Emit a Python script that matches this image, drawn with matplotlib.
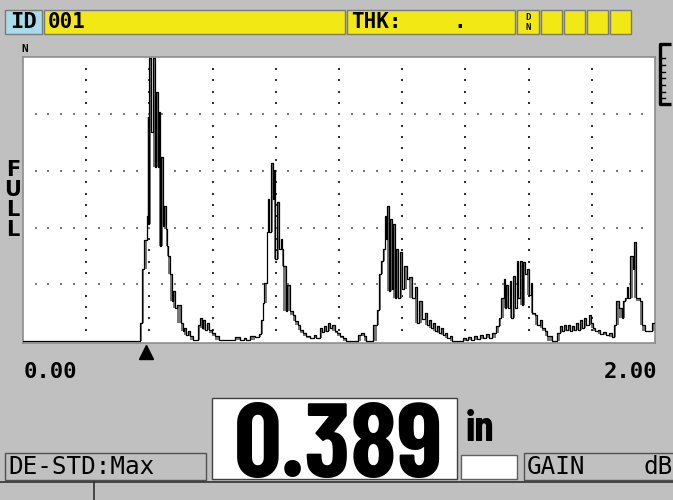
import matplotlib
matplotlib.use("Agg")
import numpy as np
import matplotlib.pyplot as plt
from matplotlib.patches import Rectangle

# A-scan trace: depth (in) and echo amplitude (% of full screen height)
depth_in = [
    0.000, 0.370, 0.378, 0.384, 0.391, 0.394, 0.397, 0.399, 0.405, 0.410,
    0.419, 0.422, 0.426, 0.430, 0.435, 0.438, 0.443, 0.446, 0.451, 0.456,
    0.460, 0.465, 0.472, 0.475, 0.481, 0.487, 0.500, 0.505, 0.509, 0.516,
    0.522, 0.528, 0.538, 0.554, 0.560, 0.565, 0.570, 0.576, 0.582, 0.589,
    0.598, 0.608, 0.620, 0.671, 0.687, 0.699, 0.706, 0.718, 0.734, 0.747,
    0.752, 0.758, 0.764, 0.771, 0.775, 0.780, 0.785, 0.791, 0.794, 0.799,
    0.804, 0.810, 0.815, 0.821, 0.824, 0.831, 0.835, 0.845, 0.853, 0.861,
    0.869, 0.877, 0.886, 0.896, 0.908, 0.921, 0.927, 0.940, 0.946, 0.953,
    0.959, 0.965, 0.972, 0.978, 0.987, 0.994, 1.003, 1.013, 1.022, 1.060,
    1.070, 1.079, 1.085, 1.109, 1.119, 1.125, 1.134, 1.139, 1.144, 1.149,
    1.153, 1.158, 1.161, 1.168, 1.171, 1.176, 1.180, 1.187, 1.193, 1.199,
    1.207, 1.215, 1.223, 1.231, 1.239, 1.247, 1.253, 1.263, 1.271, 1.278,
    1.285, 1.291, 1.297, 1.304, 1.310, 1.316, 1.323, 1.329, 1.335, 1.342,
    1.351, 1.358, 1.392, 1.402, 1.408, 1.418, 1.427, 1.437, 1.446, 1.456,
    1.465, 1.475, 1.483, 1.497, 1.506, 1.514, 1.521, 1.525, 1.530, 1.535,
    1.540, 1.544, 1.551, 1.557, 1.562, 1.568, 1.573, 1.579, 1.582, 1.589,
    1.595, 1.601, 1.608, 1.612, 1.620, 1.627, 1.636, 1.642, 1.652, 1.658,
    1.674, 1.691, 1.699, 1.706, 1.712, 1.718, 1.725, 1.731, 1.737, 1.744,
    1.750, 1.756, 1.763, 1.769, 1.775, 1.782, 1.790, 1.797, 1.804, 1.810,
    1.820, 1.826, 1.835, 1.845, 1.854, 1.864, 1.870, 1.878, 1.886, 1.894,
    1.900, 1.905, 1.911, 1.916, 1.922, 1.929, 1.935, 1.941, 1.951, 1.960,
    1.968, 1.992, 2.000,
]
amp_pct = [
    0.0, 6.3, 25.5, 35.7, 44.1, 79.0, 41.3, 100.0, 73.8, 100.0,
    61.5, 87.8, 61.5, 80.8, 33.6, 65.0, 40.6, 47.6, 39.5, 33.6,
    30.1, 23.8, 14.0, 17.5, 11.5, 12.6, 6.3, 3.5, 4.5, 2.1,
    3.5, 1.7, 0.3, 5.6, 8.0, 4.5, 7.3, 3.8, 6.3, 3.8,
    2.8, 1.7, 0.3, 1.4, 0.3, 1.0, 0.3, 1.7, 1.4, 2.4,
    7.3, 13.3, 20.3, 38.5, 50.0, 38.5, 62.9, 50.0, 60.5, 29.0,
    49.0, 32.5, 36.0, 32.5, 26.6, 10.5, 19.6, 10.5, 9.1, 7.0,
    5.6, 3.8, 2.8, 1.7, 1.0, 2.1, 1.0, 4.5, 3.1, 5.2,
    3.5, 6.3, 4.5, 5.6, 3.5, 2.8, 1.7, 1.0, 0.0, 2.1,
    2.8, 1.7, 0.0, 5.6, 10.8, 23.8, 28.3, 32.5, 44.1, 36.0,
    47.6, 17.5, 43.0, 18.5, 41.3, 15.0, 32.5, 15.0, 31.5, 18.5,
    26.6, 22.0, 22.7, 15.0, 19.2, 6.3, 14.0, 7.7, 9.8, 5.6,
    7.3, 4.5, 6.3, 3.5, 5.2, 2.8, 4.5, 2.1, 2.8, 1.0,
    1.7, 0.0, 1.0, 0.3, 1.4, 0.3, 1.7, 0.7, 2.1, 1.0,
    2.4, 1.0, 2.8, 5.2, 8.0, 15.0, 22.0, 11.5, 19.6, 11.5,
    21.0, 8.0, 23.1, 11.5, 28.3, 15.0, 28.3, 12.6, 28.0, 23.8,
    25.5, 16.1, 20.3, 9.8, 9.1, 5.6, 7.3, 4.5, 3.5, 1.7,
    0.0, 2.8, 5.2, 3.5, 5.6, 3.8, 5.6, 3.5, 5.2, 3.8,
    6.3, 3.8, 7.3, 4.5, 8.0, 5.6, 9.1, 6.3, 4.5, 3.5,
    3.8, 2.4, 3.1, 2.1, 2.8, 1.4, 5.6, 14.0, 11.5, 8.0,
    14.0, 15.0, 19.2, 15.0, 30.1, 25.5, 35.0, 15.0, 14.0, 5.6,
    3.5, 6.3, 6.3,
]

range_start, range_end = 0.00, 2.00
thickness = 0.389
unit = "in"
file_id = "001"
mode_text = "DE-STD:Max"
gain_label, gain_unit = "GAIN", "dB"

BG = "#c0c0c0"
YELLOW = "#f2e814"
MONO = ["DejaVu Sans Mono"]
BIG = ["Barlow Condensed", "Liberation Sans Narrow", "DejaVu Sans"]

fig = plt.figure(figsize=(6.73, 5.0), dpi=100, facecolor=BG)

# screen chrome drawn in pixel coordinates
ui = fig.add_axes([0, 0, 1, 1])
ui.set_xlim(0, 673)
ui.set_ylim(500, 0)
ui.axis("off")


def box(x0, y0, x1, y1, fc, ec="#7a7a7a", lw=1.0):
    ui.add_patch(Rectangle((x0, y0), x1 - x0, y1 - y0, facecolor=fc, edgecolor=ec, lw=lw))


# top status bar
box(5, 10, 42, 34, "#a8dcea")
box(44, 10, 345, 34, YELLOW)
box(347, 10, 515, 34, YELLOW)
box(517, 10, 539, 34, YELLOW)
for x0 in [541, 564, 587, 610]:
    box(x0, 10, x0 + 21, 34, YELLOW)
ui.text(23, 22.5, "ID", fontsize=16, fontweight="bold", family=MONO, ha="center", va="center")
ui.text(48, 22.5, file_id, fontsize=15, fontweight="bold", family=MONO, ha="left", va="center")
ui.text(351, 22.5, "THK:", fontsize=15, fontweight="bold", family=MONO, ha="left", va="center")
ui.text(460, 22.5, ".", fontsize=15, fontweight="bold", family=MONO, ha="center", va="center")
ui.text(528, 17, "D", fontsize=6.5, fontweight="bold", family=MONO, ha="center", va="center")
ui.text(528, 28, "N", fontsize=6.5, fontweight="bold", family=MONO, ha="center", va="center")

# small marker above the screen and the gauge at the right
ui.text(25, 49, "N", fontsize=8, fontweight="bold", family=MONO, ha="center", va="center")
ui.plot([671, 660, 660, 671], [44, 44, 104, 104], color="black", lw=2.4, solid_capstyle="butt")
for yt in [58, 65, 72, 78, 85, 92, 98]:
    ui.plot([661, 665], [yt, yt], color="black", lw=1)

# FULL label
for i, ch in enumerate("FULL"):
    ui.text(13, 170 + 20 * i, ch, fontsize=15, fontweight="bold", family=["DejaVu Sans"],
            ha="center", va="center")

# waveform screen
scope = fig.add_axes([23 / 673, 1 - 343 / 500, 632 / 673, 286 / 500])
scope.set_facecolor("white")
scope.set_xlim(range_start, range_end)
scope.set_ylim(-0.7, 100.2)
scope.set_xticks([])
scope.set_yticks([])
for s in scope.spines.values():
    s.set_color("#8c8c8c")
    s.set_linewidth(1.2)

vx = np.arange(0.2, 1.81, 0.2)
vy = np.arange(4, 97, 4)
gx, gy = np.meshgrid(vx, vy)
scope.scatter(gx.ravel(), gy.ravel(), s=1.3, marker="s", color="#303030", linewidths=0, zorder=1)
hx = np.arange(0.04, 1.97, 0.04)
hy = np.array([20, 40, 60, 80])
gx, gy = np.meshgrid(hx, hy)
scope.scatter(gx.ravel(), gy.ravel(), s=1.3, marker="s", color="#7a7a7a", linewidths=0, zorder=1)

a = np.array(amp_pct)
d = np.array(depth_in)
lo = np.minimum(np.r_[a[0], a[:-1]], np.r_[a[1:], a[-1]])
lo = np.minimum(lo, a)
scope.fill_between(d, lo, a, step="post", color="#777777", lw=0, zorder=2)
scope.plot(d, a, drawstyle="steps-post", color="black", lw=0.9, zorder=3)

# gate marker at measured thickness
scope.plot([thickness], [-0.032], marker="^", markersize=10, color="black",
           transform=scope.get_xaxis_transform(), clip_on=False)

ui.text(24, 372, f"{range_start:.2f}", fontsize=16, fontweight="bold", family=MONO, ha="left", va="center")
ui.text(657, 372, f"{range_end:.2f}", fontsize=16, fontweight="bold", family=MONO, ha="right", va="center")

# thickness readout
box(212, 398, 457, 479, "white", ec="#404040")
ui.text(443, 477, f"{thickness:.3f}", fontsize=76, fontweight="bold", family=BIG,
        ha="right", va="baseline")
ui.text(466, 441, unit, fontsize=31, fontweight="bold", family=BIG, ha="left", va="baseline")
box(461, 455, 517, 479, "white", ec="#606060")

box(5, 453, 206, 480, BG, ec="#505050")
ui.text(8, 467, mode_text, fontsize=17.5, family=MONO, ha="left", va="center")
box(524, 453, 680, 480, BG, ec="#505050")
ui.text(527, 467, gain_label, fontsize=17.5, family=MONO, ha="left", va="center")
ui.text(673, 467, gain_unit, fontsize=17.5, family=MONO, ha="right", va="center")

# bottom strip
ui.plot([0, 673], [482, 482], color="#303030", lw=1.2)
ui.plot([94, 94], [482, 500], color="#303030", lw=1.2)

fig.savefig("out.png", dpi=100, facecolor=BG)
